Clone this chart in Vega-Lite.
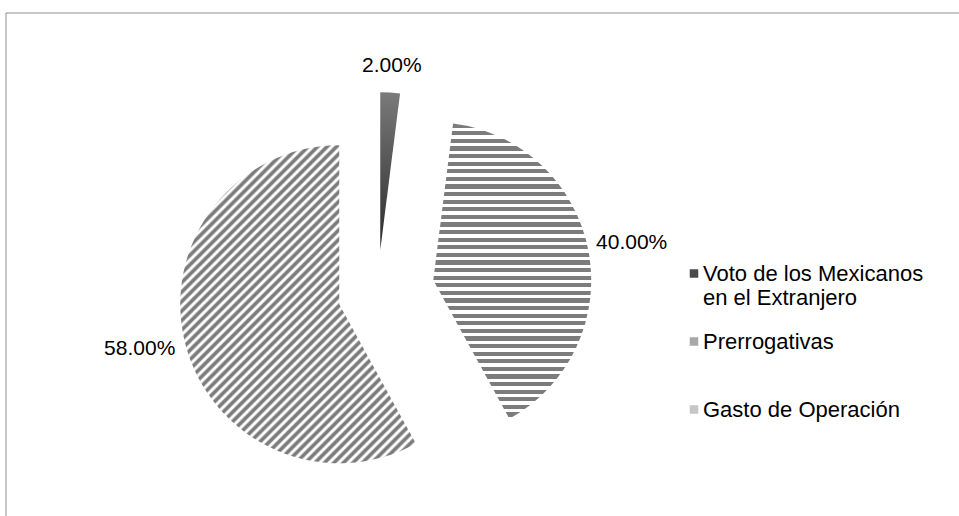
{
  "$schema": "https://vega.github.io/schema/vega-lite/v6.json",
  "width": 955.5,
  "height": 505.5,
  "autosize": {"type": "none"},
  "padding": {"left": 5.5, "top": 12.5, "right": -2, "bottom": -2},
  "background": "white",
  "view": {"stroke": "#8e8e8e", "strokeWidth": 1, "fill": null},
  "config": {"view": {"stroke": "#8e8e8e", "strokeWidth": 1}, "font": "Liberation Sans"},
  "data": {"values": [
    {"cat": "Voto de los Mexicanos en el Extranjero", "pct": 2, "label": "2.00%"},
    {"cat": "Prerrogativas", "pct": 40, "label": "40.00%"},
    {"cat": "Gasto de Operación", "pct": 58, "label": "58.00%"}
  ]},
  "encoding": {
    "theta": {"field": "pct", "type": "quantitative", "stack": true},
    "order": {"field": "pct", "type": "quantitative", "sort": "ascending"}
  },
  "layer": [
    {
      "mark": {"type": "arc", "radius": 158, "xOffset": -103, "yOffset": -15,
        "fill": {"gradient": "linear", "x1": 0, "y1": 0, "x2": 0, "y2": 1,
          "stops": [{"offset": 0, "color": "#7a7a7a"}, {"offset": 1, "color": "#2a2a2a"}]}},
      "encoding": {"opacity": {"condition": {"test": "datum.cat === 'Voto de los Mexicanos en el Extranjero'", "value": 1}, "value": 0}}
    },
    {
      "mark": {"type": "arc", "radius": 158, "xOffset": -50, "yOffset": 15,
        "fill": {"gradient": "linear", "x1": 0, "y1": 0, "x2": 0, "y2": 1.03,
          "stops": [
{"offset":0,"color":"#7c7c7c"},{"offset":0.014,"color":"#7c7c7c"},{"offset":0.014,"color":"#fff"},{"offset":0.025,"color":"#fff"},
{"offset":0.025,"color":"#7c7c7c"},{"offset":0.039,"color":"#7c7c7c"},{"offset":0.039,"color":"#fff"},{"offset":0.05,"color":"#fff"},
{"offset":0.05,"color":"#7c7c7c"},{"offset":0.064,"color":"#7c7c7c"},{"offset":0.064,"color":"#fff"},{"offset":0.075,"color":"#fff"},
{"offset":0.075,"color":"#7c7c7c"},{"offset":0.089,"color":"#7c7c7c"},{"offset":0.089,"color":"#fff"},{"offset":0.1,"color":"#fff"},
{"offset":0.1,"color":"#7c7c7c"},{"offset":0.114,"color":"#7c7c7c"},{"offset":0.114,"color":"#fff"},{"offset":0.125,"color":"#fff"},
{"offset":0.125,"color":"#7c7c7c"},{"offset":0.139,"color":"#7c7c7c"},{"offset":0.139,"color":"#fff"},{"offset":0.15,"color":"#fff"},
{"offset":0.15,"color":"#7c7c7c"},{"offset":0.164,"color":"#7c7c7c"},{"offset":0.164,"color":"#fff"},{"offset":0.175,"color":"#fff"},
{"offset":0.175,"color":"#7c7c7c"},{"offset":0.189,"color":"#7c7c7c"},{"offset":0.189,"color":"#fff"},{"offset":0.2,"color":"#fff"},
{"offset":0.2,"color":"#7c7c7c"},{"offset":0.214,"color":"#7c7c7c"},{"offset":0.214,"color":"#fff"},{"offset":0.225,"color":"#fff"},
{"offset":0.225,"color":"#7c7c7c"},{"offset":0.239,"color":"#7c7c7c"},{"offset":0.239,"color":"#fff"},{"offset":0.25,"color":"#fff"},
{"offset":0.25,"color":"#7c7c7c"},{"offset":0.264,"color":"#7c7c7c"},{"offset":0.264,"color":"#fff"},{"offset":0.275,"color":"#fff"},
{"offset":0.275,"color":"#7c7c7c"},{"offset":0.289,"color":"#7c7c7c"},{"offset":0.289,"color":"#fff"},{"offset":0.3,"color":"#fff"},
{"offset":0.3,"color":"#7c7c7c"},{"offset":0.314,"color":"#7c7c7c"},{"offset":0.314,"color":"#fff"},{"offset":0.325,"color":"#fff"},
{"offset":0.325,"color":"#7c7c7c"},{"offset":0.339,"color":"#7c7c7c"},{"offset":0.339,"color":"#fff"},{"offset":0.35,"color":"#fff"},
{"offset":0.35,"color":"#7c7c7c"},{"offset":0.364,"color":"#7c7c7c"},{"offset":0.364,"color":"#fff"},{"offset":0.375,"color":"#fff"},
{"offset":0.375,"color":"#7c7c7c"},{"offset":0.389,"color":"#7c7c7c"},{"offset":0.389,"color":"#fff"},{"offset":0.4,"color":"#fff"},
{"offset":0.4,"color":"#7c7c7c"},{"offset":0.414,"color":"#7c7c7c"},{"offset":0.414,"color":"#fff"},{"offset":0.425,"color":"#fff"},
{"offset":0.425,"color":"#7c7c7c"},{"offset":0.439,"color":"#7c7c7c"},{"offset":0.439,"color":"#fff"},{"offset":0.45,"color":"#fff"},
{"offset":0.45,"color":"#7c7c7c"},{"offset":0.464,"color":"#7c7c7c"},{"offset":0.464,"color":"#fff"},{"offset":0.475,"color":"#fff"},
{"offset":0.475,"color":"#7c7c7c"},{"offset":0.489,"color":"#7c7c7c"},{"offset":0.489,"color":"#fff"},{"offset":0.5,"color":"#fff"},
{"offset":0.5,"color":"#7c7c7c"},{"offset":0.514,"color":"#7c7c7c"},{"offset":0.514,"color":"#fff"},{"offset":0.525,"color":"#fff"},
{"offset":0.525,"color":"#7c7c7c"},{"offset":0.539,"color":"#7c7c7c"},{"offset":0.539,"color":"#fff"},{"offset":0.55,"color":"#fff"},
{"offset":0.55,"color":"#7c7c7c"},{"offset":0.564,"color":"#7c7c7c"},{"offset":0.564,"color":"#fff"},{"offset":0.575,"color":"#fff"},
{"offset":0.575,"color":"#7c7c7c"},{"offset":0.589,"color":"#7c7c7c"},{"offset":0.589,"color":"#fff"},{"offset":0.6,"color":"#fff"},
{"offset":0.6,"color":"#7c7c7c"},{"offset":0.614,"color":"#7c7c7c"},{"offset":0.614,"color":"#fff"},{"offset":0.625,"color":"#fff"},
{"offset":0.625,"color":"#7c7c7c"},{"offset":0.639,"color":"#7c7c7c"},{"offset":0.639,"color":"#fff"},{"offset":0.65,"color":"#fff"},
{"offset":0.65,"color":"#7c7c7c"},{"offset":0.664,"color":"#7c7c7c"},{"offset":0.664,"color":"#fff"},{"offset":0.675,"color":"#fff"},
{"offset":0.675,"color":"#7c7c7c"},{"offset":0.689,"color":"#7c7c7c"},{"offset":0.689,"color":"#fff"},{"offset":0.7,"color":"#fff"},
{"offset":0.7,"color":"#7c7c7c"},{"offset":0.714,"color":"#7c7c7c"},{"offset":0.714,"color":"#fff"},{"offset":0.725,"color":"#fff"},
{"offset":0.725,"color":"#7c7c7c"},{"offset":0.739,"color":"#7c7c7c"},{"offset":0.739,"color":"#fff"},{"offset":0.75,"color":"#fff"},
{"offset":0.75,"color":"#7c7c7c"},{"offset":0.764,"color":"#7c7c7c"},{"offset":0.764,"color":"#fff"},{"offset":0.775,"color":"#fff"},
{"offset":0.775,"color":"#7c7c7c"},{"offset":0.789,"color":"#7c7c7c"},{"offset":0.789,"color":"#fff"},{"offset":0.8,"color":"#fff"},
{"offset":0.8,"color":"#7c7c7c"},{"offset":0.814,"color":"#7c7c7c"},{"offset":0.814,"color":"#fff"},{"offset":0.825,"color":"#fff"},
{"offset":0.825,"color":"#7c7c7c"},{"offset":0.839,"color":"#7c7c7c"},{"offset":0.839,"color":"#fff"},{"offset":0.85,"color":"#fff"},
{"offset":0.85,"color":"#7c7c7c"},{"offset":0.864,"color":"#7c7c7c"},{"offset":0.864,"color":"#fff"},{"offset":0.875,"color":"#fff"},
{"offset":0.875,"color":"#7c7c7c"},{"offset":0.889,"color":"#7c7c7c"},{"offset":0.889,"color":"#fff"},{"offset":0.9,"color":"#fff"},
{"offset":0.9,"color":"#7c7c7c"},{"offset":0.914,"color":"#7c7c7c"},{"offset":0.914,"color":"#fff"},{"offset":0.925,"color":"#fff"},
{"offset":0.925,"color":"#7c7c7c"},{"offset":0.939,"color":"#7c7c7c"},{"offset":0.939,"color":"#fff"},{"offset":0.95,"color":"#fff"},
{"offset":0.95,"color":"#7c7c7c"},{"offset":0.964,"color":"#7c7c7c"},{"offset":0.964,"color":"#fff"},{"offset":0.975,"color":"#fff"},
{"offset":0.975,"color":"#7c7c7c"},{"offset":0.989,"color":"#7c7c7c"},{"offset":0.989,"color":"#fff"},{"offset":1,"color":"#fff"}
          ]}},
      "encoding": {"opacity": {"condition": {"test": "datum.cat === 'Prerrogativas'", "value": 1}, "value": 0}}
    },
    {
      "mark": {"type": "arc", "radius": 159, "xOffset": -144, "yOffset": 39,
        "fill": {"gradient": "linear", "x1": 0, "y1": 0, "x2": 1.429, "y2": 1.929,
          "stops": [
{"offset":0,"color":"#fff"},{"offset":0.002,"color":"#fff"},{"offset":0.0045,"color":"#7c7c7c"},{"offset":0.0075,"color":"#7c7c7c"},
{"offset":0.01,"color":"#fff"},{"offset":0.012,"color":"#fff"},{"offset":0.0145,"color":"#7c7c7c"},{"offset":0.0175,"color":"#7c7c7c"},
{"offset":0.02,"color":"#fff"},{"offset":0.022,"color":"#fff"},{"offset":0.0245,"color":"#7c7c7c"},{"offset":0.0275,"color":"#7c7c7c"},
{"offset":0.03,"color":"#fff"},{"offset":0.032,"color":"#fff"},{"offset":0.0345,"color":"#7c7c7c"},{"offset":0.0375,"color":"#7c7c7c"},
{"offset":0.04,"color":"#fff"},{"offset":0.042,"color":"#fff"},{"offset":0.0445,"color":"#7c7c7c"},{"offset":0.0475,"color":"#7c7c7c"},
{"offset":0.05,"color":"#fff"},{"offset":0.052,"color":"#fff"},{"offset":0.0545,"color":"#7c7c7c"},{"offset":0.0575,"color":"#7c7c7c"},
{"offset":0.06,"color":"#fff"},{"offset":0.062,"color":"#fff"},{"offset":0.0645,"color":"#7c7c7c"},{"offset":0.0675,"color":"#7c7c7c"},
{"offset":0.07,"color":"#fff"},{"offset":0.072,"color":"#fff"},{"offset":0.0745,"color":"#7c7c7c"},{"offset":0.0775,"color":"#7c7c7c"},
{"offset":0.08,"color":"#fff"},{"offset":0.082,"color":"#fff"},{"offset":0.0845,"color":"#7c7c7c"},{"offset":0.0875,"color":"#7c7c7c"},
{"offset":0.09,"color":"#fff"},{"offset":0.092,"color":"#fff"},{"offset":0.0945,"color":"#7c7c7c"},{"offset":0.0975,"color":"#7c7c7c"},
{"offset":0.1,"color":"#fff"},{"offset":0.102,"color":"#fff"},{"offset":0.1045,"color":"#7c7c7c"},{"offset":0.1075,"color":"#7c7c7c"},
{"offset":0.11,"color":"#fff"},{"offset":0.112,"color":"#fff"},{"offset":0.1145,"color":"#7c7c7c"},{"offset":0.1175,"color":"#7c7c7c"},
{"offset":0.12,"color":"#fff"},{"offset":0.122,"color":"#fff"},{"offset":0.1245,"color":"#7c7c7c"},{"offset":0.1275,"color":"#7c7c7c"},
{"offset":0.13,"color":"#fff"},{"offset":0.132,"color":"#fff"},{"offset":0.1345,"color":"#7c7c7c"},{"offset":0.1375,"color":"#7c7c7c"},
{"offset":0.14,"color":"#fff"},{"offset":0.142,"color":"#fff"},{"offset":0.1445,"color":"#7c7c7c"},{"offset":0.1475,"color":"#7c7c7c"},
{"offset":0.15,"color":"#fff"},{"offset":0.152,"color":"#fff"},{"offset":0.1545,"color":"#7c7c7c"},{"offset":0.1575,"color":"#7c7c7c"},
{"offset":0.16,"color":"#fff"},{"offset":0.162,"color":"#fff"},{"offset":0.1645,"color":"#7c7c7c"},{"offset":0.1675,"color":"#7c7c7c"},
{"offset":0.17,"color":"#fff"},{"offset":0.172,"color":"#fff"},{"offset":0.1745,"color":"#7c7c7c"},{"offset":0.1775,"color":"#7c7c7c"},
{"offset":0.18,"color":"#fff"},{"offset":0.182,"color":"#fff"},{"offset":0.1845,"color":"#7c7c7c"},{"offset":0.1875,"color":"#7c7c7c"},
{"offset":0.19,"color":"#fff"},{"offset":0.192,"color":"#fff"},{"offset":0.1945,"color":"#7c7c7c"},{"offset":0.1975,"color":"#7c7c7c"},
{"offset":0.2,"color":"#fff"},{"offset":0.202,"color":"#fff"},{"offset":0.2045,"color":"#7c7c7c"},{"offset":0.2075,"color":"#7c7c7c"},
{"offset":0.21,"color":"#fff"},{"offset":0.212,"color":"#fff"},{"offset":0.2145,"color":"#7c7c7c"},{"offset":0.2175,"color":"#7c7c7c"},
{"offset":0.22,"color":"#fff"},{"offset":0.222,"color":"#fff"},{"offset":0.2245,"color":"#7c7c7c"},{"offset":0.2275,"color":"#7c7c7c"},
{"offset":0.23,"color":"#fff"},{"offset":0.232,"color":"#fff"},{"offset":0.2345,"color":"#7c7c7c"},{"offset":0.2375,"color":"#7c7c7c"},
{"offset":0.24,"color":"#fff"},{"offset":0.242,"color":"#fff"},{"offset":0.2445,"color":"#7c7c7c"},{"offset":0.2475,"color":"#7c7c7c"},
{"offset":0.25,"color":"#fff"},{"offset":0.252,"color":"#fff"},{"offset":0.2545,"color":"#7c7c7c"},{"offset":0.2575,"color":"#7c7c7c"},
{"offset":0.26,"color":"#fff"},{"offset":0.262,"color":"#fff"},{"offset":0.2645,"color":"#7c7c7c"},{"offset":0.2675,"color":"#7c7c7c"},
{"offset":0.27,"color":"#fff"},{"offset":0.272,"color":"#fff"},{"offset":0.2745,"color":"#7c7c7c"},{"offset":0.2775,"color":"#7c7c7c"},
{"offset":0.28,"color":"#fff"},{"offset":0.282,"color":"#fff"},{"offset":0.2845,"color":"#7c7c7c"},{"offset":0.2875,"color":"#7c7c7c"},
{"offset":0.29,"color":"#fff"},{"offset":0.292,"color":"#fff"},{"offset":0.2945,"color":"#7c7c7c"},{"offset":0.2975,"color":"#7c7c7c"},
{"offset":0.3,"color":"#fff"},{"offset":0.302,"color":"#fff"},{"offset":0.3045,"color":"#7c7c7c"},{"offset":0.3075,"color":"#7c7c7c"},
{"offset":0.31,"color":"#fff"},{"offset":0.312,"color":"#fff"},{"offset":0.3145,"color":"#7c7c7c"},{"offset":0.3175,"color":"#7c7c7c"},
{"offset":0.32,"color":"#fff"},{"offset":0.322,"color":"#fff"},{"offset":0.3245,"color":"#7c7c7c"},{"offset":0.3275,"color":"#7c7c7c"},
{"offset":0.33,"color":"#fff"},{"offset":0.332,"color":"#fff"},{"offset":0.3345,"color":"#7c7c7c"},{"offset":0.3375,"color":"#7c7c7c"},
{"offset":0.34,"color":"#fff"},{"offset":0.342,"color":"#fff"},{"offset":0.3445,"color":"#7c7c7c"},{"offset":0.3475,"color":"#7c7c7c"},
{"offset":0.35,"color":"#fff"},{"offset":0.352,"color":"#fff"},{"offset":0.3545,"color":"#7c7c7c"},{"offset":0.3575,"color":"#7c7c7c"},
{"offset":0.36,"color":"#fff"},{"offset":0.362,"color":"#fff"},{"offset":0.3645,"color":"#7c7c7c"},{"offset":0.3675,"color":"#7c7c7c"},
{"offset":0.37,"color":"#fff"},{"offset":0.372,"color":"#fff"},{"offset":0.3745,"color":"#7c7c7c"},{"offset":0.3775,"color":"#7c7c7c"},
{"offset":0.38,"color":"#fff"},{"offset":0.382,"color":"#fff"},{"offset":0.3845,"color":"#7c7c7c"},{"offset":0.3875,"color":"#7c7c7c"},
{"offset":0.39,"color":"#fff"},{"offset":0.392,"color":"#fff"},{"offset":0.3945,"color":"#7c7c7c"},{"offset":0.3975,"color":"#7c7c7c"},
{"offset":0.4,"color":"#fff"},{"offset":0.402,"color":"#fff"},{"offset":0.4045,"color":"#7c7c7c"},{"offset":0.4075,"color":"#7c7c7c"},
{"offset":0.41,"color":"#fff"},{"offset":0.412,"color":"#fff"},{"offset":0.4145,"color":"#7c7c7c"},{"offset":0.4175,"color":"#7c7c7c"},
{"offset":0.42,"color":"#fff"},{"offset":0.422,"color":"#fff"},{"offset":0.4245,"color":"#7c7c7c"},{"offset":0.4275,"color":"#7c7c7c"},
{"offset":0.43,"color":"#fff"},{"offset":0.432,"color":"#fff"},{"offset":0.4345,"color":"#7c7c7c"},{"offset":0.4375,"color":"#7c7c7c"},
{"offset":0.44,"color":"#fff"},{"offset":0.442,"color":"#fff"},{"offset":0.4445,"color":"#7c7c7c"},{"offset":0.4475,"color":"#7c7c7c"},
{"offset":0.45,"color":"#fff"},{"offset":0.452,"color":"#fff"},{"offset":0.4545,"color":"#7c7c7c"},{"offset":0.4575,"color":"#7c7c7c"},
{"offset":0.46,"color":"#fff"},{"offset":0.462,"color":"#fff"},{"offset":0.4645,"color":"#7c7c7c"},{"offset":0.4675,"color":"#7c7c7c"},
{"offset":0.47,"color":"#fff"},{"offset":0.472,"color":"#fff"},{"offset":0.4745,"color":"#7c7c7c"},{"offset":0.4775,"color":"#7c7c7c"},
{"offset":0.48,"color":"#fff"},{"offset":0.482,"color":"#fff"},{"offset":0.4845,"color":"#7c7c7c"},{"offset":0.4875,"color":"#7c7c7c"},
{"offset":0.49,"color":"#fff"},{"offset":0.492,"color":"#fff"},{"offset":0.4945,"color":"#7c7c7c"},{"offset":0.4975,"color":"#7c7c7c"},
{"offset":0.5,"color":"#fff"},{"offset":0.502,"color":"#fff"},{"offset":0.5045,"color":"#7c7c7c"},{"offset":0.5075,"color":"#7c7c7c"},
{"offset":0.51,"color":"#fff"},{"offset":0.512,"color":"#fff"},{"offset":0.5145,"color":"#7c7c7c"},{"offset":0.5175,"color":"#7c7c7c"},
{"offset":0.52,"color":"#fff"},{"offset":0.522,"color":"#fff"},{"offset":0.5245,"color":"#7c7c7c"},{"offset":0.5275,"color":"#7c7c7c"},
{"offset":0.53,"color":"#fff"},{"offset":0.532,"color":"#fff"},{"offset":0.5345,"color":"#7c7c7c"},{"offset":0.5375,"color":"#7c7c7c"},
{"offset":0.54,"color":"#fff"},{"offset":0.542,"color":"#fff"},{"offset":0.5445,"color":"#7c7c7c"},{"offset":0.5475,"color":"#7c7c7c"},
{"offset":0.55,"color":"#fff"},{"offset":0.552,"color":"#fff"},{"offset":0.5545,"color":"#7c7c7c"},{"offset":0.5575,"color":"#7c7c7c"},
{"offset":0.56,"color":"#fff"},{"offset":0.562,"color":"#fff"},{"offset":0.5645,"color":"#7c7c7c"},{"offset":0.5675,"color":"#7c7c7c"},
{"offset":0.57,"color":"#fff"},{"offset":0.572,"color":"#fff"},{"offset":0.5745,"color":"#7c7c7c"},{"offset":0.5775,"color":"#7c7c7c"},
{"offset":0.58,"color":"#fff"},{"offset":0.582,"color":"#fff"},{"offset":0.5845,"color":"#7c7c7c"},{"offset":0.5875,"color":"#7c7c7c"},
{"offset":0.59,"color":"#fff"},{"offset":0.592,"color":"#fff"},{"offset":0.5945,"color":"#7c7c7c"},{"offset":0.5975,"color":"#7c7c7c"},
{"offset":0.6,"color":"#fff"}
          ]}},
      "encoding": {"opacity": {"condition": {"test": "datum.cat === 'Gasto de Operación'", "value": 1}, "value": 0}}
    },
    {
      "mark": {"type": "arc", "radius": 158, "opacity": 0},
      "encoding": {
        "color": {
          "field": "cat", "type": "nominal",
          "scale": {
            "domain": ["Voto de los Mexicanos en el Extranjero", "Prerrogativas", "Gasto de Operación"],
            "range": ["#4a4a4a", "#a8a8a8", "#c6c6c6"]
          },
          "legend": {
            "orient": "none", "legendX": 677.5, "legendY": 250, "title": null,
            "symbolType": "square", "symbolSize": 72, "symbolStrokeWidth": 0,
            "labelFont": "Liberation Sans", "labelFontSize": 22, "labelColor": "#000000",
            "labelOffset": -2, "labelLimit": 400, "rowPadding": 22, "gridAlign": "all", "padding": 0,
            "labelExpr": "datum.label == 'Voto de los Mexicanos en el Extranjero' ? ['Voto de los Mexicanos', 'en el Extranjero'] : datum.label"
          }
        }
      }
    },
    {
      "mark": {"type": "text", "radius": 185, "xOffset": -103, "yOffset": -15, "fontSize": 21, "font": "Liberation Sans", "color": "#000000"},
      "encoding": {
        "text": {"field": "label"},
        "opacity": {"condition": {"test": "datum.cat === 'Voto de los Mexicanos en el Extranjero'", "value": 1}, "value": 0}
      }
    },
    {
      "mark": {"type": "text", "radius": 202, "xOffset": -50, "yOffset": 16, "fontSize": 21, "font": "Liberation Sans", "color": "#000000"},
      "encoding": {
        "text": {"field": "label"},
        "opacity": {"condition": {"test": "datum.cat === 'Prerrogativas'", "value": 1}, "value": 0}
      }
    },
    {
      "mark": {"type": "text", "radius": 206, "xOffset": -144, "yOffset": 33, "fontSize": 21, "font": "Liberation Sans", "color": "#000000"},
      "encoding": {
        "text": {"field": "label"},
        "opacity": {"condition": {"test": "datum.cat === 'Gasto de Operación'", "value": 1}, "value": 0}
      }
    }
  ]
}
